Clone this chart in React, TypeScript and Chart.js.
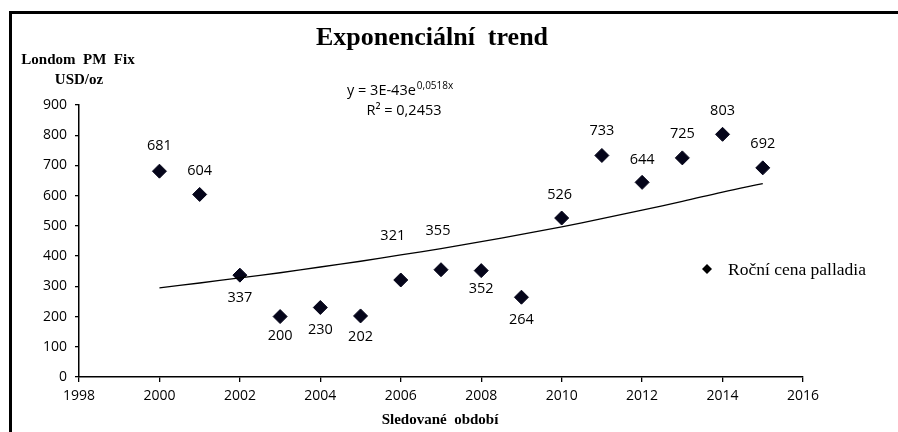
import React, { useEffect, useRef } from "react";
import { Chart, registerables } from "chart.js";

Chart.register(...registerables);

const years = [2000, 2001, 2002, 2003, 2004, 2005, 2006, 2007, 2008, 2009, 2010, 2011, 2012, 2013, 2014, 2015];
const prices = [681, 604, 337, 200, 230, 202, 321, 355, 352, 264, 526, 733, 644, 725, 803, 692];
const trendValues = [295, 311, 328, 345, 364, 383, 404, 425, 448, 472, 497, 524, 552, 581, 612, 640];
const xTicksRange = [1998, 2016];
const yTicksRange = [0, 900];

const chartTitle = "Exponenciální  trend";
const yTitleLines = ["Londom  PM  Fix", "USD/oz"];
const xTitle = "Sledované  období";
const seriesName = "Roční cena palladia";
const equationMain = "y = 3E-43e";
const equationExp = "0,0518x";
const rSquared = "R² = 0,2453";

const SANS = "'Open Sans', 'DejaVu Sans', sans-serif";
const SERIF = "'Liberation Serif', 'DejaVu Serif', serif";

const overlayPlugin = {
  id: "overlay",
  afterDraw(chart: any) {
    const ctx = chart.ctx;
    ctx.save();
    // frame
    ctx.strokeStyle = "#000";
    ctx.lineWidth = 3;
    ctx.beginPath();
    ctx.moveTo(10.5, 432);
    ctx.lineTo(10.5, 12.5);
    ctx.lineTo(898, 12.5);
    ctx.stroke();

    ctx.fillStyle = "#000";
    ctx.textBaseline = "middle";
    ctx.textAlign = "center";
    // title
    ctx.font = `bold 26px ${SERIF}`;
    ctx.fillText(chartTitle, 432, 38);
    // y title
    ctx.font = `bold 15px ${SERIF}`;
    ctx.fillText(yTitleLines[0], 78, 60);
    ctx.fillText(yTitleLines[1], 79, 80);
    // x title
    ctx.fillText(xTitle, 440, 420);

    // equation
    ctx.textAlign = "left";
    ctx.font = `14.5px ${SANS}`;
    const eqX = 347;
    ctx.fillText(equationMain, eqX, 91);
    const w = ctx.measureText(equationMain).width;
    ctx.font = `10px ${SANS}`;
    ctx.fillText(equationExp, eqX + w + 1, 86);
    ctx.font = `14.5px ${SANS}`;
    ctx.textAlign = "center";
    ctx.fillText(rSquared, 404, 111);

    // data labels
    const meta = chart.getDatasetMeta(1);
    const offsets = chart.options.plugins.overlay.labelOffsets;
    ctx.font = `14.5px ${SANS}`;
    ctx.textAlign = "center";
    meta.data.forEach((pt: any, i: number) => {
      const o = offsets[i];
      ctx.fillText(String(prices[i]), pt.x + o[0], pt.y + o[1]);
    });

    // legend
    const lx = 707, ly = 269;
    ctx.beginPath();
    ctx.moveTo(lx, ly - 5);
    ctx.lineTo(lx + 5, ly);
    ctx.lineTo(lx, ly + 5);
    ctx.lineTo(lx - 5, ly);
    ctx.closePath();
    ctx.fill();
    ctx.textAlign = "left";
    ctx.font = `17.5px ${SERIF}`;
    ctx.fillText(seriesName, 728, 270);
    ctx.restore();
  },
};

export default function App() {
  const ref = useRef<HTMLCanvasElement>(null);
  useEffect(() => {
    if (!ref.current) return;
    const chart = new Chart(ref.current, {
      type: "scatter",
      data: {
        datasets: [
          {
            type: "line",
            label: "trend",
            data: years.map((y, i) => ({ x: y, y: trendValues[i] })),
            borderColor: "#000",
            borderWidth: 1.3,
            pointRadius: 0,
            tension: 0.4,
            fill: false,
          } as any,
          {
            label: seriesName,
            data: years.map((y, i) => ({ x: y, y: prices[i] })),
            pointStyle: "rectRot",
            pointRadius: 7,
            backgroundColor: "#05051a",
            borderColor: "#05051a",
            borderWidth: 1,
          },
        ],
      },
      options: {
        responsive: false,
        animation: false,
        layout: { padding: { top: 105, right: 95, left: 0, bottom: 0 } },
        plugins: {
          legend: { display: false },
          tooltip: { enabled: false },
          title: { display: false },
          overlay: {
            labelOffsets: [
              [0, -25], [0, -24], [0, 23], [0, 19], [0, 22], [0, 21],
              [-8, -44], [-3, -39], [0, 18], [0, 23], [-2, -23], [0, -25],
              [0, -22], [0, -24], [0, -23], [0, -24],
            ],
          },
        } as any,
        scales: {
          x: {
            type: "linear",
            min: xTicksRange[0],
            max: xTicksRange[1],
            ticks: {
              stepSize: 2,
              color: "#000",
              font: { family: SANS, size: 14 },
              padding: 6,
              maxRotation: 0,
              callback: (v: any) => String(v),
            },
            grid: { drawOnChartArea: false, drawTicks: true, tickLength: 5, color: "#000", lineWidth: 1.3 },
            border: { color: "#000", width: 1.5 },
            afterFit: (s: any) => { s.height = 55; },
          },
          y: {
            min: yTicksRange[0],
            max: yTicksRange[1],
            ticks: {
              stepSize: 100,
              color: "#000",
              font: { family: SANS, size: 14 },
              padding: 8,
              callback: (v: any) => String(v),
            },
            grid: { drawOnChartArea: false, drawTicks: true, tickLength: 4, color: "#000", lineWidth: 1.3 },
            border: { color: "#000", width: 1.5 },
            afterFit: (s: any) => { s.width = 79; },
          },
        },
      },
      plugins: [overlayPlugin],
    });
    return () => chart.destroy();
  }, []);
  return (
    <div style={{ position: "absolute", left: 0, top: 0, width: 898, height: 432, background: "#fff" }}>
      <canvas ref={ref} width={898} height={432} style={{ display: "block" }} />
    </div>
  );
}
